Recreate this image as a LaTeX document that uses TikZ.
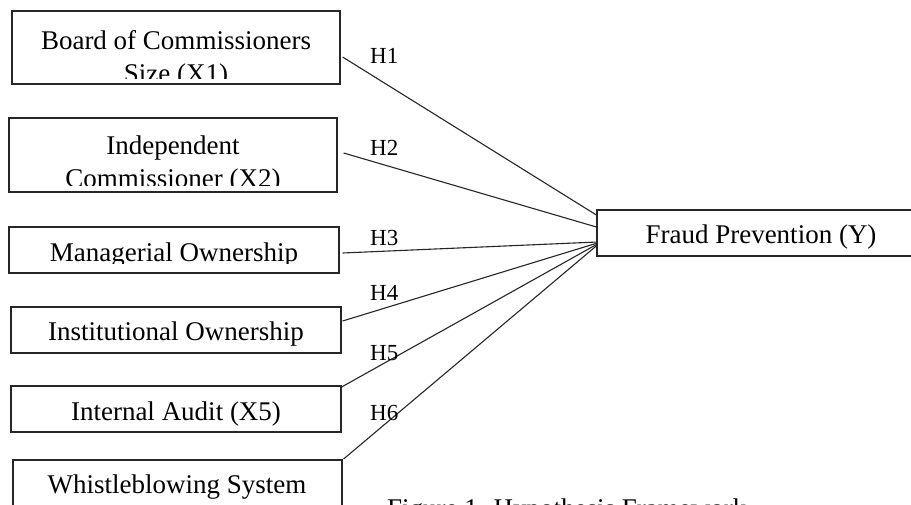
\documentclass[tikz,border=0pt]{standalone}
\usepackage{fontspec}
\setmainfont{Liberation Serif}
\usetikzlibrary{calc}
\begin{document}
\begin{tikzpicture}[x=1pt,y=-1pt,
 box/.style={draw=black!85, line width=1.2pt, inner sep=0pt},
 txt/.style={font=\fontsize{27}{33}\selectfont, anchor=base, inner sep=0pt},
 hyp/.style={font=\fontsize{23}{27}\selectfont, anchor=base west, inner sep=0pt},
 link/.style={draw=black!85, line width=1.1pt}]
\useasboundingbox[fill=white] (0,0) rectangle (911,504);
% boxes
\node[box, minimum width=328pt, minimum height=73pt] (b1) at (176,47.5) {};
\node[box, minimum width=328pt, minimum height=74pt] (b2) at (173,155) {};
\node[box, minimum width=330pt, minimum height=46pt] (b3) at (174,250) {};
\node[box, minimum width=330pt, minimum height=46pt] (b4) at (176,330) {};
\node[box, minimum width=330pt, minimum height=46pt] (b5) at (176,409) {};
\node[box, minimum width=329pt, minimum height=70pt] (b6) at (177.5,495) {};
\node[box, minimum width=333pt, minimum height=46pt] (fp) at (763.5,233) {};
% box texts (clipped like the original text frames)
\begin{scope}
\clip (12,11) rectangle (340,78);
\node[txt] (t1a) at (176,49.5) {Board of Commissioners};
\node[txt] (t1b) at (176,82.5) {Size (X1)};
\end{scope}
\begin{scope}
\clip (9,118) rectangle (337,185);
\node[txt] (t2a) at (173,154) {Independent};
\node[txt] (t2b) at (173,187) {Commissioner (X2)};
\end{scope}
\begin{scope}
\clip (9,227) rectangle (339,263);
\node[txt] (t3) at (174,261.5) {Managerial Ownership};
\end{scope}
\node[txt] (t4) at (176,340) {Institutional Ownership};
\node[txt] (t5) at (176,420.5) {Internal Audit (X5)};
\node[txt] (t6) at (177,493) {Whistleblowing System};
\node[txt] (tfp) at (761,243) {Fraud Prevention (Y)};
% connectors
\draw[link] ($(b1.east)+(2,9.5)$) -- ($(fp.west)+(0,-18)$);
\draw[link] ($(b2.east)+(6,-2)$) -- ($(fp.west)+(0,-6)$);
\draw[link] ($(b3.east)+(3,3)$) -- ($(fp.west)+(1,9)$);
\draw[link] ($(b4.east)+(1,-9)$) -- ($(fp.west)+(1,10)$);
\draw[link] ($(b5.east)+(0,-22)$) -- ($(fp.west)+(1,11)$);
\draw[link] ($(b6.east)+(1,-36)$) -- ($(fp.west)+(1,12)$);
% hypothesis labels
\node[hyp] (h1) at (370,63.3) {H1};
\node[hyp] (h2) at (370,155) {H2};
\node[hyp] (h3) at (370,245) {H3};
\node[hyp] (h4) at (370,300) {H4};
\node[hyp] (h5) at (370,360) {H5};
\node[hyp] (h6) at (370,420) {H6};
% caption (cut off by the page edge, as in the reference)
\node[font=\fontsize{27}{33}\selectfont, anchor=base west, inner sep=0pt] (cap) at (387,517) {Figure 1. Hypothesis Framework};
\end{tikzpicture}
\end{document}
